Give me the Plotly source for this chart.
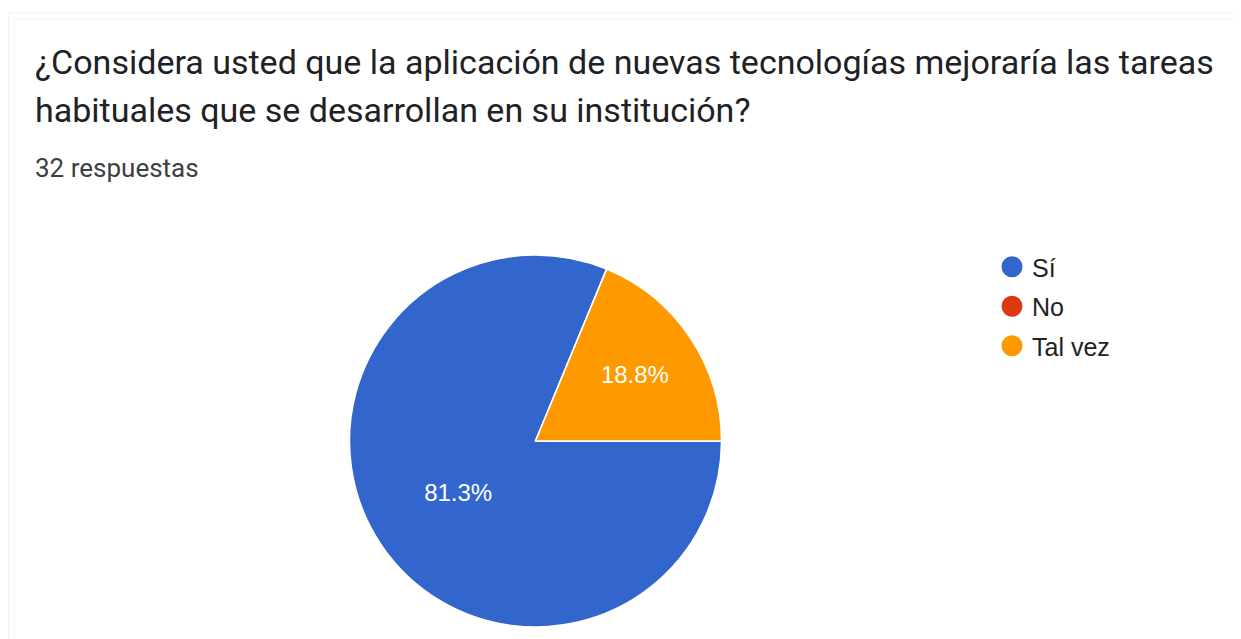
import plotly.graph_objects as go

labels = ["Sí", "No", "Tal vez"]
values = [26, 0, 6]
colors = ["#3366cc", "#dc3912", "#ff9900"]
title_lines = ["¿Considera usted que la aplicación de nuevas tecnologías mejoraría las tareas",
               "habituales que se desarrollan en su institución?"]
subtitle = "32 respuestas"

W, H = 1241, 639
OFF = 8  # page body margin


def px(sx):
    return (sx - OFF) / W


def py(sy):
    return 1 - (sy - OFF) / H


cx, cy, r = 535.5, 441, 186

fig = go.Figure()
fig.add_trace(go.Pie(
    labels=labels, values=values, sort=False, direction="clockwise", rotation=90,
    marker=dict(colors=colors, line=dict(color="white", width=1.5)),
    texttemplate="%{percent:.1%}", textposition="inside", insidetextorientation="horizontal",
    textfont=dict(family="Liberation Sans, Arial", size=24, color="white"),
    showlegend=False, hoverinfo="label+value+percent",
    domain=dict(x=[px(cx - r), px(cx + r)], y=[py(cy + r), py(cy - r)]),
))
for lab, col in zip(labels, colors):
    fig.add_trace(go.Scatter(
        x=[None], y=[None], mode="markers", name=lab, legendgroup=lab,
        marker=dict(symbol="circle", size=16, color=col, line=dict(color=col, width=5)),
        showlegend=True,
    ))

fig.update_layout(
    width=W, height=H, margin=dict(l=0, r=0, t=0, b=0),
    paper_bgcolor="white", plot_bgcolor="white",
    xaxis=dict(visible=False), yaxis=dict(visible=False),
    legend=dict(x=px(992), y=py(244), xanchor="left", yanchor="top",
                font=dict(family="Liberation Sans, Arial", size=25, color="#222222"),
                tracegroupgap=4, bgcolor="rgba(0,0,0,0)", itemclick=False),
    shapes=[
        dict(type="rect", xref="paper", yref="paper", x0=px(8.5), x1=1.2, y0=-0.2, y1=py(13),
             line=dict(color="#f1f1f1", width=1)),
        dict(type="rect", xref="paper", yref="paper", x0=px(14), x1=1.2, y0=-0.2, y1=py(19),
             line=dict(color="#f5f5f5", width=1)),
    ],
    annotations=[
        dict(text=title_lines[0], x=px(33), y=py(62), xref="paper", yref="paper",
             xanchor="left", yanchor="middle", showarrow=False,
             font=dict(family="Roboto", size=34, color="#202124")),
        dict(text=title_lines[1], x=px(33), y=py(110), xref="paper", yref="paper",
             xanchor="left", yanchor="middle", showarrow=False,
             font=dict(family="Roboto", size=34, color="#202124")),
        dict(text=subtitle, x=px(33), y=py(168), xref="paper", yref="paper",
             xanchor="left", yanchor="middle", showarrow=False,
             font=dict(family="Roboto", size=26, color="#3c4043")),
    ],
)
fig.write_html("out.html")
